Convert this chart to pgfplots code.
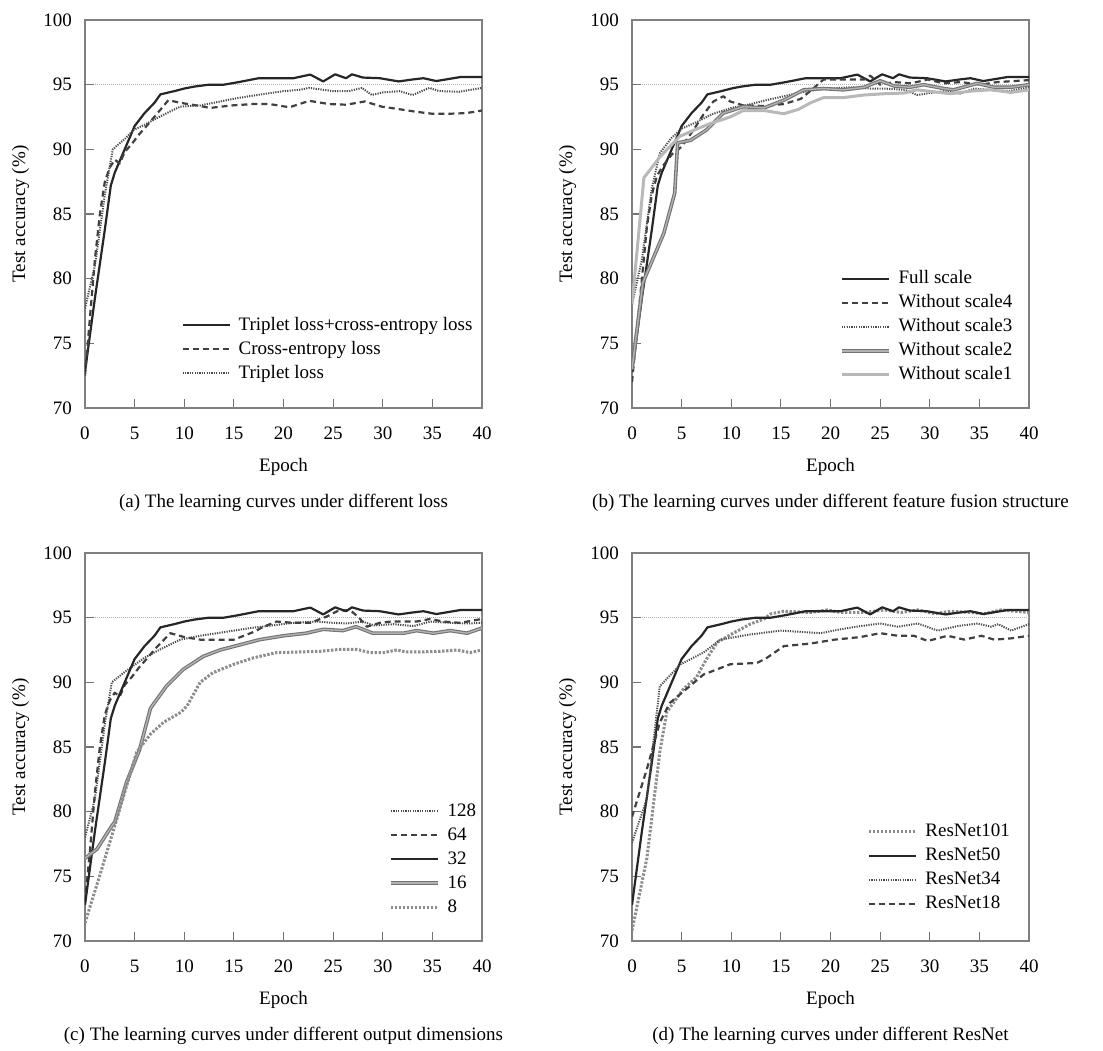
\documentclass[border=0pt]{standalone}
\usepackage{fontspec}
\setmainfont{Liberation Serif}
\usepackage{pgfplots}
\usepackage{pgfplotstable}
\pgfplotsset{compat=1.18}

% the curve that is common to all four panels
\pgfplotstableread{
x y
0 72.8
1 78.5
2 83.8
2.6 87.2
3 88.2
4 90.0
5 91.8
6 92.8
7 93.6
7.6 94.25
9 94.5
10 94.7
11 94.85
12.5 95.0
14 95.0
15.5 95.2
17.5 95.5
19 95.5
21 95.5
22.7 95.78
24 95.25
25.2 95.8
26.3 95.5
26.9 95.8
28 95.55
29.7 95.5
31.6 95.25
33 95.4
34.1 95.5
35.4 95.28
37.9 95.6
40 95.6
}\full

\pgfplotsset{
  panel/.style={
    scale only axis, width=198.5pt, height=194pt,
    xmin=0, xmax=40, ymin=70, ymax=100,
    xtick={0,5,...,40}, ytick={70,75,...,100},
    tick align=inside, xtick pos=left, ytick pos=left,
    major tick length=4.5pt,
    axis line style={draw=black!50, line width=0.8pt},
    every tick/.style={draw=black!55, line width=0.6pt},
    font=\fontsize{9.5}{11.4}\selectfont,
    /pgf/number format/assume math mode=true,
    yticklabel style={xshift=-3pt},
    xticklabel style={yshift=-6pt},
    extra y ticks={95}, extra y tick labels={},
    extra y tick style={grid=major, major grid style={draw=black!30, dash pattern=on 0.5pt off 0.5pt, line width=0.5pt}},
    xlabel={Epoch}, ylabel={Test accuracy (\%)},
    every axis x label/.style={at={(axis description cs:0.5,-0.152)}, anchor=center},
    every axis y label/.style={at={(axis description cs:-0.162,0.5)}, rotate=90, anchor=center},
    every axis title/.style={at={(axis description cs:0.5,-0.245)}, anchor=center},
    legend cell align=left,
    legend style={draw=none, fill=none, inner sep=0pt, row sep=1pt,
      nodes={inner sep=1pt, text height=7pt, text depth=2pt},
      /tikz/every odd column/.append style={column sep=3pt}},
    legend image code/.code={\draw[##1] (0pt,0pt) -- (23.5pt,0pt);},
  },
  sol/.style={draw=black!85, line width=1.1pt, line join=round},
  dsh/.style={draw=black!75, line width=1.1pt, dash pattern=on 3pt off 2pt, line join=round},
  dot/.style={draw=black!70, line width=1pt, dash pattern=on 0.6pt off 0.6pt, line join=round},
  dbl/.style={draw=black!55, double=black!30, double distance=0.7pt, line width=0.55pt, line join=round},
  lgt/.style={draw=black!28, line width=1.5pt, line join=round},
  gdot/.style={draw=black!45, line width=1.5pt, dash pattern=on 1.2pt off 0.8pt, line join=round},
}

\begin{document}
\begin{tikzpicture}

% (a)
\begin{axis}[panel, at={(42.5pt,321pt)}, anchor=south west,
  title={(a) The learning curves under different loss},
  legend style={at={(axis description cs:0.242,0.152)}, anchor=west}]
\addplot[sol] table {\full};
\addplot[dsh] coordinates {(0,72.5)(0.5,77)(1,81.5)(1.5,85)(2,87.5)(2.5,88.6)(3,89.2)(3.5,88.9)(4,89.8)(4.7,90.4)(5.5,91.2)(6.2,91.8)(7.2,92.7)(8.4,93.8)(9.6,93.6)(11.6,93.35)(12.6,93.2)(14.9,93.4)(16.9,93.5)(18.6,93.5)(20.6,93.25)(22.6,93.75)(24.6,93.5)(26.3,93.45)(28.2,93.7)(29.9,93.3)(31.7,93.1)(33.4,92.9)(35,92.75)(36.7,92.75)(38.4,92.8)(40,93.0)};
\addplot[dot] coordinates {(0,77.7)(1,81)(2,86.5)(2.8,90)(4,90.8)(4.9,91.5)(6,91.9)(7.2,92.4)(8.5,92.9)(9.6,93.3)(11.6,93.4)(13,93.6)(14.9,93.9)(16.5,94.1)(18.2,94.3)(20,94.5)(21.6,94.6)(22.6,94.75)(25,94.5)(26.6,94.5)(27.9,94.75)(28.9,94.2)(30,94.4)(31.7,94.5)(33,94.2)(34.7,94.75)(35.7,94.5)(37.7,94.45)(40,94.75)};
\legend{Triplet loss+cross-entropy loss, Cross-entropy loss, Triplet loss}
\end{axis}

% (b)
\begin{axis}[panel, at={(316pt,321pt)}, anchor=south west,
  title={(b) The learning curves under different feature fusion structure},
  legend style={at={(axis description cs:0.523,0.209)}, anchor=west}]
\addplot[sol] table {\full};
\addplot[dsh] coordinates {(0,72)(1,80)(1.5,84)(2,86.5)(2.5,87.9)(3,88.6)(4,89.6)(5,90.2)(6.2,91.5)(7.2,92.7)(8.2,93.7)(9.2,94.1)(9.9,93.7)(11.2,93.4)(13.3,93.35)(15.3,93.5)(17,93.9)(18.1,94.6)(19.3,95.4)(21.3,95.4)(23.4,95.4)(24,95.7)(25,95.0)(26.4,95.2)(28.1,95.1)(29.8,95.4)(31.4,95.1)(33.1,95.2)(35.2,95.0)(36.8,95.2)(40,95.35)};
\addplot[dot] coordinates {(0,78)(1,81.5)(2,87)(2.8,89.7)(4,90.9)(5,91.6)(6.5,92.1)(8,92.7)(10,93.2)(12,93.5)(13.5,93.8)(15.3,94.1)(17,94.4)(18.6,94.6)(20,94.7)(22,94.8)(24,94.7)(25.4,94.7)(27.5,94.6)(28.7,94.2)(30,94.35)(31.5,94.5)(33,94.3)(34.5,94.7)(36,94.6)(38,94.5)(40,94.8)};
\addplot[dbl] coordinates {(0,73)(1.1,79.7)(2.2,81.7)(3.2,83.5)(4.3,86.6)(4.6,90.5)(5.9,90.7)(7.5,91.5)(9.2,92.8)(11.2,93.3)(13.3,93.2)(15.3,93.8)(17.3,94.6)(19.3,94.7)(21.3,94.6)(23.4,94.8)(25,95.3)(26.4,94.9)(28,94.8)(29.4,95.0)(31.4,94.7)(32.4,94.6)(34.8,95.1)(36.5,94.8)(38.2,94.8)(40,95.0)};
\addplot[lgt] coordinates {(0,78)(1.2,87.8)(2.8,89.4)(4.8,91.0)(6.3,91.5)(7.9,92.0)(9.9,92.5)(11.2,93.0)(13.3,93.0)(15.3,92.75)(16.8,93.1)(18,93.6)(19.3,94.0)(21.3,94.0)(23.4,94.2)(25.4,94.3)(27.4,94.35)(28.7,94.6)(30.4,94.45)(32.1,94.3)(34.1,94.5)(36.1,94.6)(38.2,94.4)(40,94.6)};
\legend{Full scale, Without scale4, Without scale3, Without scale2, Without scale1}
\end{axis}

% (c)
\begin{axis}[panel, at={(42.5pt,54.5pt)}, anchor=south west,
  title={(c) The learning curves under different output dimensions},
  legend style={at={(axis description cs:0.765,0.211)}, anchor=west}]
\addplot[dot] coordinates {(0,78)(1,81)(2,86.8)(2.7,90.0)(4,90.8)(4.9,91.3)(6,91.9)(7.2,92.4)(8.5,92.9)(9.6,93.3)(11.6,93.6)(13.3,93.8)(15,94.0)(16.7,94.2)(18.3,94.35)(21,94.6)(23.3,94.7)(25,94.6)(26.4,94.55)(28,94.7)(29.1,94.4)(31.1,94.5)(33.1,94.35)(34.8,94.7)(36.8,94.6)(38.5,94.55)(40,94.6)};
\addplot[dsh] coordinates {(0,73)(0.5,77)(1,81.5)(1.5,85)(2,87.5)(2.5,88.6)(3,89.2)(3.5,88.9)(4,89.8)(4.7,90.4)(5.5,91.2)(6.2,91.8)(7.2,92.7)(8.6,93.8)(10,93.5)(11.6,93.3)(12.9,93.3)(15,93.3)(17,93.9)(18,94.3)(19.3,94.7)(21,94.6)(22.7,94.6)(24.4,95.1)(25.4,95.5)(26.7,95.6)(27.6,95.0)(28.4,94.3)(29.7,94.6)(30.8,94.7)(33.4,94.7)(34.8,94.9)(36.1,94.7)(37.8,94.6)(40,94.9)};
\addplot[sol] table {\full};
\addplot[dbl] coordinates {(0,76.4)(1.2,77.1)(2.7,78.9)(3,79.2)(4.2,82.3)(5.5,84.8)(6.6,88.0)(8.2,89.7)(9.9,91.0)(11.9,92.0)(13.6,92.5)(15.6,92.9)(17.6,93.3)(20,93.6)(22.3,93.8)(24,94.1)(26,94.0)(27.3,94.3)(29,93.8)(32.1,93.8)(33.4,94.0)(35.1,93.8)(36.8,94.0)(38.5,93.8)(40,94.2)};
\addplot[gdot] coordinates {(0,71.4)(1.5,75.1)(3,78.9)(4.2,82)(5.2,84.6)(6.6,86.0)(7.9,86.9)(9.7,87.7)(10.3,88.2)(11.6,90.0)(12.9,90.75)(15,91.4)(17,91.9)(19.3,92.3)(21.7,92.35)(23.7,92.4)(25.7,92.55)(27.4,92.55)(28.7,92.3)(30.1,92.3)(31.4,92.5)(32.4,92.35)(33.8,92.35)(35.8,92.4)(37.5,92.5)(38.8,92.3)(40,92.5)};
\legend{128, 64, 32, 16, 8}
\end{axis}

% (d)
\begin{axis}[panel, at={(316pt,54.5pt)}, anchor=south west,
  title={(d) The learning curves under different ResNet},
  legend style={at={(axis description cs:0.592,0.189)}, anchor=west}]
\addplot[gdot] coordinates {(0,70.8)(1.5,76.4)(2.8,84.6)(3.5,87.7)(5.2,89.5)(6.5,90.4)(7.5,91.8)(8.6,93.1)(10.2,93.8)(11.9,94.5)(13.3,94.9)(14,95.3)(15.3,95.5)(18,95.4)(19.7,95.6)(21,95.4)(23.4,95.4)(25.4,95.6)(27.1,95.4)(28.8,95.6)(30.5,95.3)(32.1,95.5)(34.2,95.4)(35.5,95.3)(37.2,95.6)(40,95.4)};
\addplot[sol] table {\full};
\addplot[dot] coordinates {(0,77.6)(1.5,81)(2.8,89.7)(4.9,91.4)(7.2,92.3)(8.9,93.3)(11.9,93.7)(15,94.0)(17,93.9)(19,93.8)(21,94.1)(23,94.35)(25,94.55)(26.8,94.3)(28.8,94.55)(30.8,94.0)(32.8,94.35)(34.8,94.55)(36.2,94.3)(36.9,94.5)(38.2,94.0)(40,94.5)};
\addplot[dsh] coordinates {(0,79.6)(1.5,83.3)(2.8,86.9)(3.8,88.4)(5.5,89.5)(7.2,90.6)(9.9,91.4)(12.6,91.5)(13.6,91.9)(15.3,92.8)(18,93.0)(20.4,93.3)(23,93.5)(25,93.8)(26.8,93.6)(28.4,93.6)(29.8,93.2)(31.8,93.6)(33.5,93.3)(35.2,93.6)(36.5,93.3)(38.2,93.4)(40,93.6)};
\legend{ResNet101, ResNet50, ResNet34, ResNet18}
\end{axis}

\pgfresetboundingbox
\useasboundingbox (0,0) rectangle (551.5pt,525pt);
\end{tikzpicture}
\end{document}
